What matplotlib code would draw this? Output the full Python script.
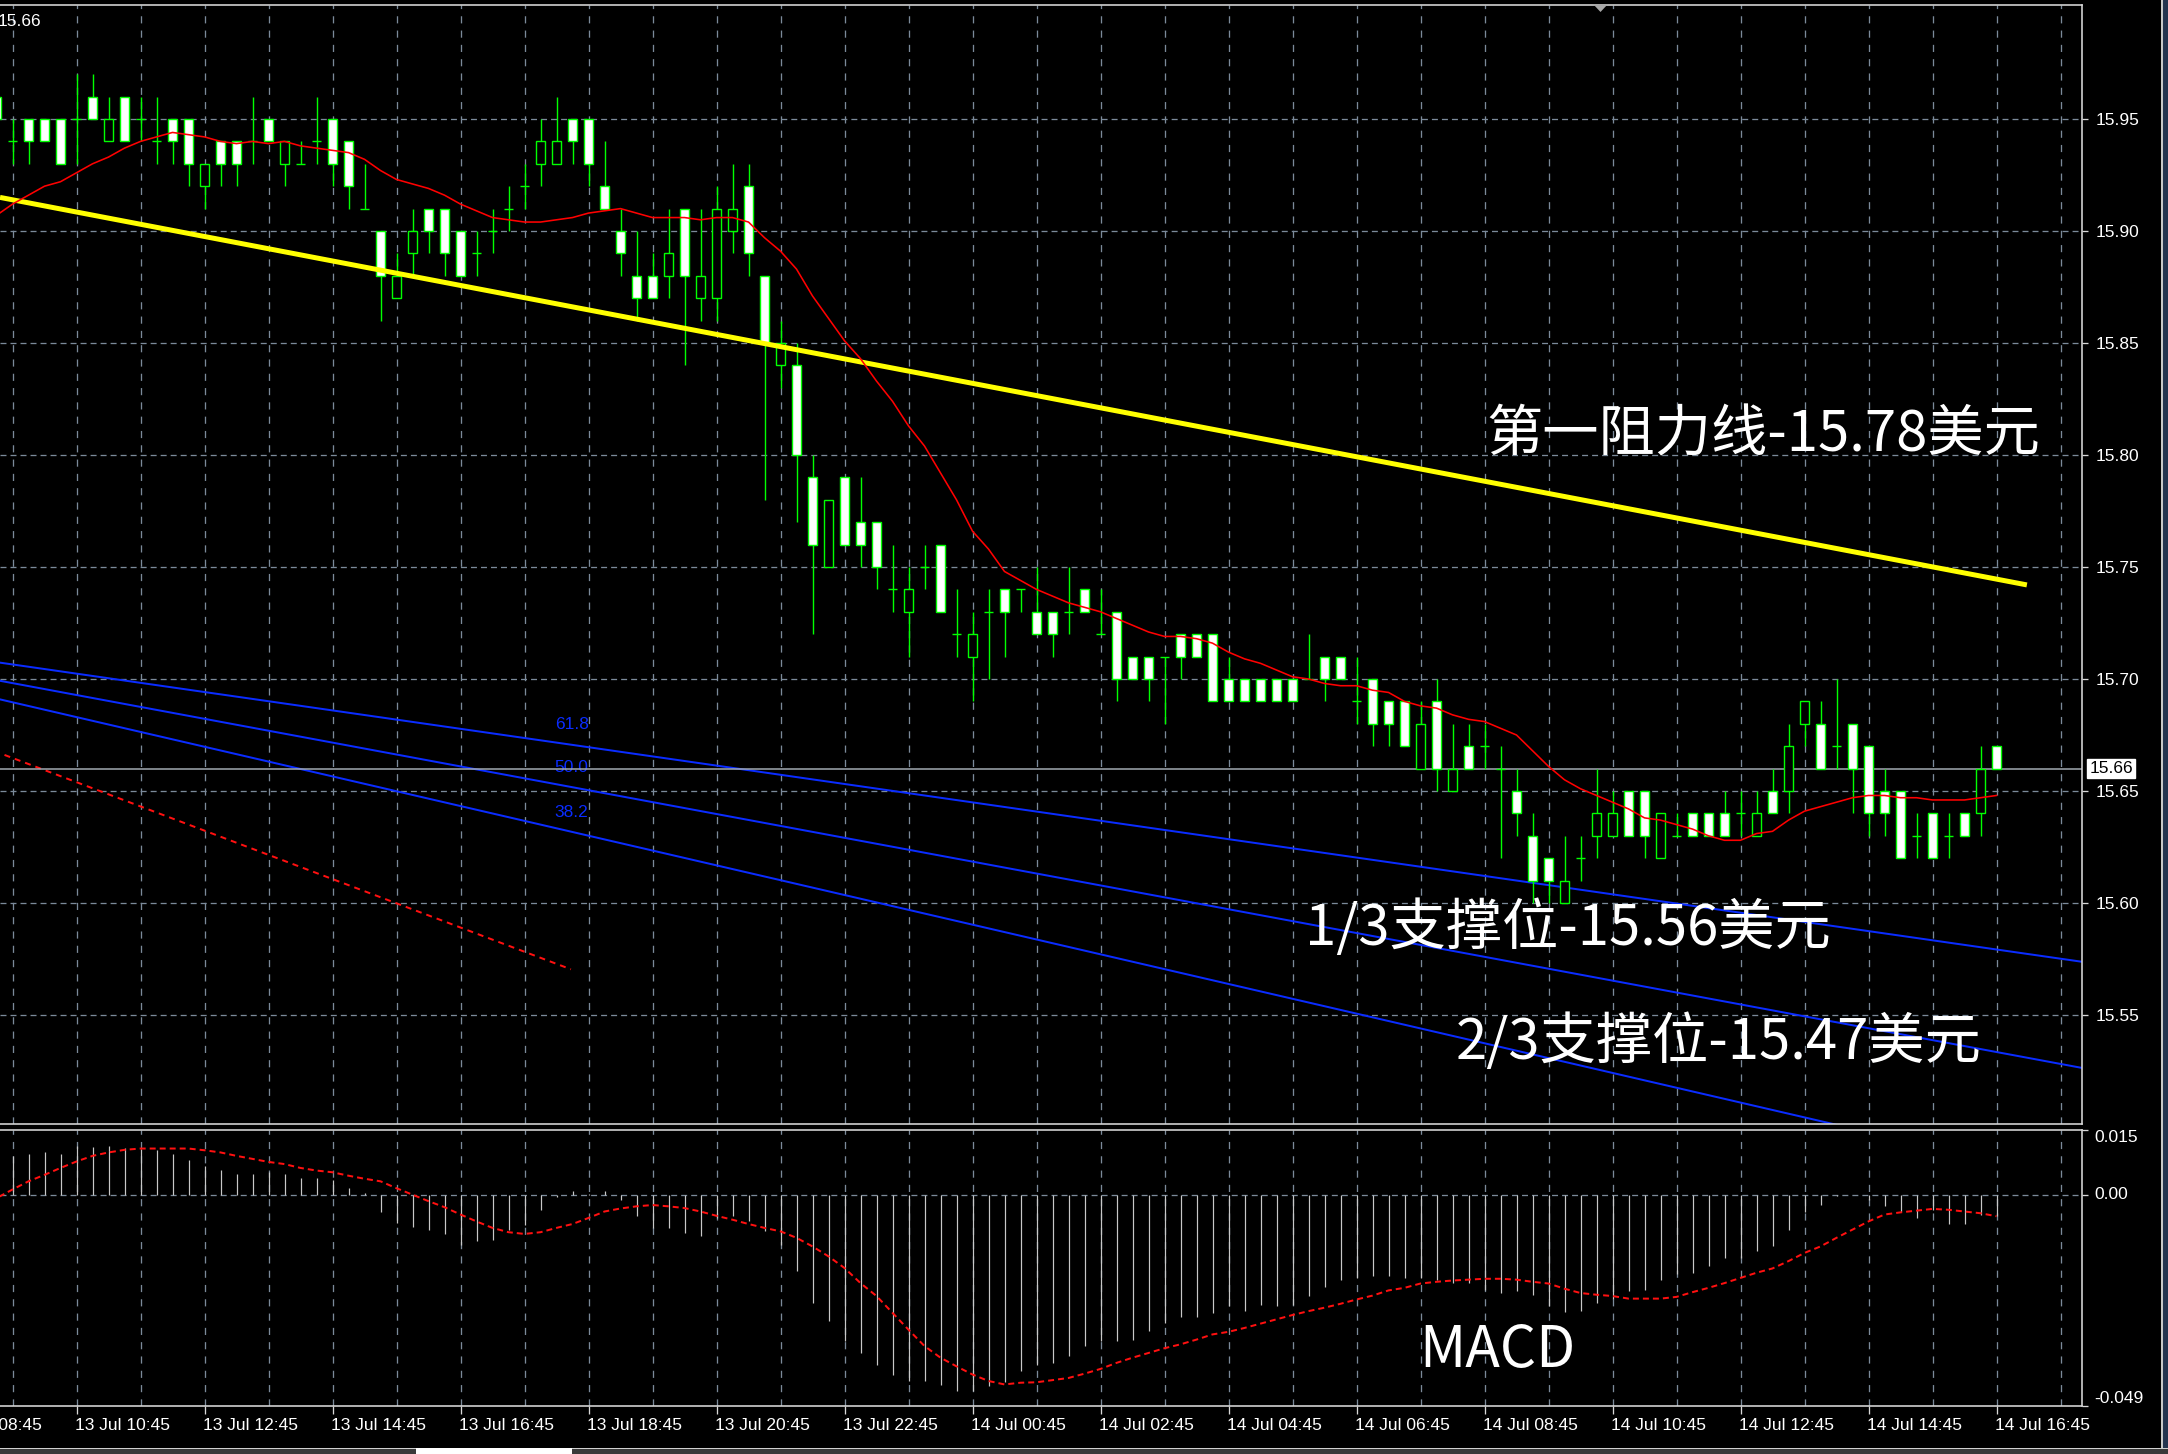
import matplotlib.pyplot as plt
from matplotlib.patches import Rectangle, Polygon
from matplotlib.transforms import blended_transform_factory

# 15 minute bars, bar 0 = 13 Jul 09:45
bars = list(range(-1, 125))
opens = [15.96, 15.94, 15.95, 15.95, 15.95, 15.95, 15.96, 15.94, 15.96, 15.95,
         15.94, 15.95, 15.95, 15.92, 15.94, 15.94, 15.94, 15.95, 15.93, 15.93,
         15.94, 15.95, 15.94, 15.91, 15.90, 15.87, 15.89, 15.91, 15.91, 15.90,
         15.89, 15.90, 15.91, 15.92, 15.93, 15.93, 15.95, 15.95, 15.92, 15.90,
         15.88, 15.88, 15.88, 15.91, 15.87, 15.87, 15.90, 15.92, 15.88, 15.84,
         15.84, 15.79, 15.75, 15.79, 15.77, 15.77, 15.74, 15.73, 15.75, 15.76,
         15.72, 15.71, 15.73, 15.74, 15.74, 15.73, 15.73, 15.73, 15.74, 15.72,
         15.73, 15.71, 15.71, 15.71, 15.72, 15.72, 15.72, 15.70, 15.70, 15.70,
         15.70, 15.70, 15.70, 15.71, 15.71, 15.69, 15.70, 15.69, 15.69, 15.66,
         15.69, 15.65, 15.67, 15.67, 15.66, 15.65, 15.63, 15.62, 15.60, 15.62,
         15.63, 15.63, 15.65, 15.65, 15.62, 15.63, 15.64, 15.64, 15.64, 15.64,
         15.63, 15.65, 15.65, 15.68, 15.68, 15.67, 15.68, 15.67, 15.65, 15.65,
         15.63, 15.64, 15.63, 15.64, 15.64, 15.67]
highs = [15.96, 15.95, 15.95, 15.95, 15.95, 15.97, 15.97, 15.96, 15.96, 15.96,
         15.96, 15.95, 15.95, 15.93, 15.94, 15.94, 15.96, 15.95, 15.94, 15.94,
         15.96, 15.95, 15.94, 15.93, 15.90, 15.89, 15.91, 15.91, 15.91, 15.90,
         15.90, 15.91, 15.92, 15.93, 15.95, 15.96, 15.95, 15.95, 15.94, 15.91,
         15.90, 15.89, 15.91, 15.91, 15.91, 15.92, 15.93, 15.93, 15.88, 15.86,
         15.85, 15.80, 15.78, 15.79, 15.79, 15.77, 15.76, 15.75, 15.76, 15.76,
         15.74, 15.73, 15.74, 15.74, 15.74, 15.75, 15.73, 15.75, 15.74, 15.74,
         15.73, 15.71, 15.71, 15.71, 15.72, 15.72, 15.72, 15.71, 15.70, 15.70,
         15.70, 15.70, 15.72, 15.71, 15.71, 15.71, 15.70, 15.69, 15.69, 15.69,
         15.70, 15.68, 15.68, 15.68, 15.67, 15.66, 15.64, 15.62, 15.63, 15.63,
         15.66, 15.65, 15.65, 15.65, 15.64, 15.64, 15.64, 15.64, 15.65, 15.65,
         15.65, 15.66, 15.68, 15.69, 15.69, 15.70, 15.68, 15.67, 15.66, 15.65,
         15.64, 15.64, 15.64, 15.64, 15.67, 15.67]
lows = [15.95, 15.93, 15.93, 15.94, 15.93, 15.93, 15.95, 15.94, 15.94, 15.94,
        15.93, 15.93, 15.92, 15.91, 15.92, 15.92, 15.93, 15.94, 15.92, 15.93,
        15.93, 15.92, 15.91, 15.91, 15.86, 15.87, 15.88, 15.89, 15.88, 15.88,
        15.88, 15.89, 15.90, 15.91, 15.92, 15.93, 15.93, 15.92, 15.91, 15.88,
        15.86, 15.87, 15.87, 15.84, 15.86, 15.86, 15.89, 15.88, 15.78, 15.83,
        15.77, 15.72, 15.75, 15.76, 15.75, 15.74, 15.73, 15.71, 15.74, 15.73,
        15.71, 15.69, 15.70, 15.71, 15.73, 15.72, 15.71, 15.72, 15.73, 15.72,
        15.69, 15.70, 15.69, 15.68, 15.70, 15.71, 15.69, 15.69, 15.69, 15.69,
        15.69, 15.69, 15.70, 15.69, 15.70, 15.68, 15.67, 15.67, 15.67, 15.66,
        15.65, 15.65, 15.66, 15.66, 15.62, 15.63, 15.60, 15.60, 15.60, 15.61,
        15.62, 15.63, 15.63, 15.62, 15.62, 15.63, 15.63, 15.63, 15.63, 15.63,
        15.63, 15.64, 15.64, 15.67, 15.66, 15.66, 15.64, 15.63, 15.63, 15.62,
        15.62, 15.62, 15.62, 15.63, 15.63, 15.66]
closes = [15.95, 15.94, 15.94, 15.94, 15.93, 15.95, 15.95, 15.95, 15.94, 15.95,
          15.94, 15.94, 15.93, 15.93, 15.93, 15.93, 15.94, 15.94, 15.94, 15.93,
          15.94, 15.93, 15.92, 15.91, 15.88, 15.88, 15.90, 15.90, 15.89, 15.88,
          15.89, 15.90, 15.91, 15.92, 15.94, 15.94, 15.94, 15.93, 15.91, 15.89,
          15.87, 15.87, 15.89, 15.88, 15.88, 15.91, 15.91, 15.89, 15.85, 15.85,
          15.80, 15.76, 15.78, 15.76, 15.76, 15.75, 15.74, 15.74, 15.75, 15.73,
          15.72, 15.72, 15.73, 15.73, 15.74, 15.72, 15.72, 15.73, 15.73, 15.72,
          15.70, 15.70, 15.70, 15.71, 15.71, 15.71, 15.69, 15.69, 15.69, 15.69,
          15.69, 15.69, 15.70, 15.70, 15.70, 15.69, 15.68, 15.68, 15.67, 15.68,
          15.66, 15.66, 15.66, 15.67, 15.66, 15.64, 15.61, 15.61, 15.61, 15.62,
          15.64, 15.64, 15.63, 15.63, 15.64, 15.63, 15.63, 15.63, 15.63, 15.64,
          15.64, 15.64, 15.67, 15.69, 15.66, 15.67, 15.66, 15.64, 15.64, 15.62,
          15.63, 15.62, 15.63, 15.63, 15.66, 15.66]
ma_line = [15.907, 15.912, 15.916, 15.920, 15.922, 15.926, 15.930, 15.933, 15.937, 15.940,
           15.942, 15.944, 15.943, 15.942, 15.940, 15.939, 15.940, 15.939, 15.940, 15.938,
           15.937, 15.936, 15.935, 15.932, 15.927, 15.923, 15.921, 15.919, 15.916, 15.912,
           15.909, 15.906, 15.905, 15.904, 15.904, 15.905, 15.906, 15.908, 15.909, 15.910,
           15.908, 15.906, 15.906, 15.906, 15.905, 15.906, 15.906, 15.904, 15.897, 15.891,
           15.883, 15.871, 15.861, 15.851, 15.843, 15.833, 15.824, 15.813, 15.804, 15.792,
           15.780, 15.766, 15.758, 15.748, 15.744, 15.740, 15.737, 15.734, 15.732, 15.730,
           15.727, 15.724, 15.721, 15.719, 15.719, 15.718, 15.716, 15.712, 15.709, 15.707,
           15.704, 15.701, 15.700, 15.698, 15.697, 15.697, 15.695, 15.694, 15.690, 15.688,
           15.687, 15.684, 15.682, 15.681, 15.678, 15.675, 15.668, 15.661, 15.655, 15.651,
           15.648, 15.645, 15.642, 15.638, 15.637, 15.635, 15.633, 15.630, 15.628, 15.628,
           15.631, 15.632, 15.637, 15.641, 15.643, 15.645, 15.647, 15.648, 15.648, 15.647,
           15.647, 15.646, 15.646, 15.646, 15.647, 15.648]
macd_hist = [0.0085, 0.0090, 0.0095, 0.0100, 0.0095, 0.0112, 0.0110, 0.0114, 0.0108, 0.0106,
             0.0104, 0.0094, 0.0081, 0.0067, 0.0058, 0.0049, 0.0049, 0.0053, 0.0049, 0.0039,
             0.0039, 0.0035, 0.0015, 0.0004, -0.0039, -0.0066, -0.0075, -0.0081, -0.0090, -0.0116,
             -0.0108, -0.0104, -0.0081, -0.0070, -0.0035, -0.0005, 0.0008, 0.0002, 0.0008, -0.0012,
             -0.0049, -0.0077, -0.0077, -0.0089, -0.0095, -0.0054, -0.0049, -0.0062, -0.0085, -0.0116,
             -0.0178, -0.0251, -0.0293, -0.0340, -0.0367, -0.0396, -0.0419, -0.0432, -0.0432, -0.0442,
             -0.0455, -0.0455, -0.0444, -0.0434, -0.0409, -0.0394, -0.0390, -0.0373, -0.0350, -0.0340,
             -0.0340, -0.0336, -0.0316, -0.0297, -0.0283, -0.0283, -0.0274, -0.0259, -0.0270, -0.0255,
             -0.0259, -0.0255, -0.0234, -0.0215, -0.0197, -0.0193, -0.0189, -0.0188, -0.0193, -0.0193,
             -0.0197, -0.0205, -0.0205, -0.0220, -0.0228, -0.0224, -0.0233, -0.0259, -0.0271, -0.0270,
             -0.0251, -0.0243, -0.0224, -0.0220, -0.0197, -0.0185, -0.0181, -0.0166, -0.0147, -0.0147,
             -0.0131, -0.0120, -0.0081, -0.0039, -0.0023, -0.0004, -0.0001, -0.0012, -0.0027, -0.0039,
             -0.0054, -0.0035, -0.0069, -0.0069, -0.0046, -0.0050]
macd_signal = [-0.0008, 0.0012, 0.0031, 0.0046, 0.0062, 0.0077, 0.0090, 0.0098, 0.0104, 0.0107,
               0.0107, 0.0107, 0.0107, 0.0103, 0.0098, 0.0090, 0.0083, 0.0076, 0.0071, 0.0062,
               0.0056, 0.0052, 0.0044, 0.0037, 0.0031, 0.0015, 0.0000, -0.0015, -0.0029, -0.0046,
               -0.0062, -0.0077, -0.0087, -0.0091, -0.0087, -0.0077, -0.0068, -0.0054, -0.0039, -0.0032,
               -0.0027, -0.0024, -0.0027, -0.0031, -0.0039, -0.0049, -0.0058, -0.0068, -0.0077, -0.0085,
               -0.0100, -0.0120, -0.0143, -0.0170, -0.0205, -0.0235, -0.0274, -0.0313, -0.0351, -0.0378,
               -0.0398, -0.0417, -0.0432, -0.0440, -0.0436, -0.0435, -0.0430, -0.0425, -0.0415, -0.0404,
               -0.0390, -0.0378, -0.0367, -0.0356, -0.0347, -0.0336, -0.0324, -0.0318, -0.0309, -0.0299,
               -0.0289, -0.0279, -0.0270, -0.0262, -0.0253, -0.0243, -0.0234, -0.0222, -0.0216, -0.0206,
               -0.0202, -0.0199, -0.0197, -0.0195, -0.0195, -0.0197, -0.0202, -0.0206, -0.0218, -0.0228,
               -0.0232, -0.0235, -0.0241, -0.0241, -0.0241, -0.0237, -0.0226, -0.0216, -0.0205, -0.0193,
               -0.0181, -0.0171, -0.0154, -0.0135, -0.0120, -0.0100, -0.0081, -0.0062, -0.0046, -0.0041,
               -0.0037, -0.0033, -0.0035, -0.0039, -0.0043, -0.0050]

# drawn objects (bar index, price)
resist_bars = [-0.78, 125.9]
resist_price = [15.915, 15.742]
fib_bars = [-0.78, 129.4]
fib_618 = [15.7073, 15.5737]
fib_500 = [15.6992, 15.5263]
fib_382 = [15.6909, 15.4755]
fan_bars = [-0.5, 34.9]
fan_base = [15.6661, 15.5704]
last_price = 15.66

price_ticks = [15.55, 15.60, 15.65, 15.70, 15.75, 15.80, 15.85, 15.90, 15.95]
macd_ticks = [-0.049, 0.0, 0.015]
time_bars = [-4, 4, 12, 20, 28, 36, 44, 52, 60, 68, 76, 84, 92, 100, 108, 116, 124]
time_labels = ['13 Jul 08:45', '13 Jul 10:45', '13 Jul 12:45', '13 Jul 14:45',
               '13 Jul 16:45', '13 Jul 18:45', '13 Jul 20:45', '13 Jul 22:45',
               '14 Jul 00:45', '14 Jul 02:45', '14 Jul 04:45', '14 Jul 06:45',
               '14 Jul 08:45', '14 Jul 10:45', '14 Jul 12:45', '14 Jul 14:45',
               '14 Jul 16:45']

W, H = 2168, 1454
PX = 0.72  # points per pixel at dpi 100
GREEN = '#00ff00'
GRID = '#7b8a9a'
FRAME = '#d8d8d8'
LBL = ['Liberation Sans', 'DejaVu Sans']
BIG = ['Noto Sans CJK SC', 'DejaVu Sans']

fig = plt.figure(figsize=(W / 100, H / 100), dpi=100, facecolor='black')


def box(x0, y0, x1, y1):
    return [x0 / W, 1 - y1 / H, (x1 - x0) / W, (y1 - y0) / H]


ax = fig.add_axes(box(0, 5, 2082, 1124), facecolor='black')
axm = fig.add_axes(box(0, 1130, 2082, 1406), facecolor='black')
xlim = (-12.5 / 16, (2082 - 12.5) / 16)

for a in (ax, axm):
    a.set_xlim(*xlim)
    for s in a.spines.values():
        s.set_color(FRAME)
        s.set_linewidth(1.6 * PX)
    a.spines['left'].set_visible(False)
    # hourly grid, every 4 bars
    for k in range(0, 132, 4):
        a.axvline(k, color=GRID, lw=1.3 * PX, dashes=(5.5, 5.5), zorder=0.5)

ax.set_ylim(15.95 - (1124 - 119) / 2240, 15.95 + (119 - 5) / 2240)
axm.set_ylim(-0.049, 0.015)

for p in price_ticks:
    ax.axhline(p, color=GRID, lw=1.3 * PX, dashes=(4.6, 3.1), zorder=0.5)
axm.axhline(0, color=GRID, lw=1.3 * PX, dashes=(4.6, 3.1), zorder=0.5)

# fibonacci fan + base line
for vals in (fib_618, fib_500, fib_382):
    ax.plot(fib_bars, vals, color='#0a2cff', lw=2 * PX, zorder=1)
ax.plot(fan_bars, fan_base, color='#ff1010', lw=2 * PX, dashes=(3, 2.5), zorder=1)
for lab, yv in (('61.8', 15.6795), ('50.0', 15.6603), ('38.2', 15.6406)):
    ax.text(36.0, yv, lab, color='#0a2cff', fontsize=12.5, family=LBL,
            ha='right', va='center', zorder=1)

ax.axhline(last_price, color='#a4acb4', lw=1.5 * PX, zorder=1.2)

# candles
wick_lw = 1.4 * PX
for k, o, hi, lo, c in zip(bars, opens, highs, lows, closes):
    ax.vlines(k, lo, hi, color=GREEN, lw=wick_lw, zorder=2)
    if abs(o - c) < 1e-9:
        ax.hlines(o, k - 0.3, k + 0.3, color=GREEN, lw=wick_lw, zorder=3)
    else:
        fill = 'white' if c < o else 'black'
        ax.add_patch(Rectangle((k - 0.26, min(o, c)), 0.52, abs(c - o),
                               facecolor=fill, edgecolor=GREEN,
                               lw=1.4 * PX, zorder=3))

ax.plot(resist_bars, resist_price, color='#ffff00', lw=5 * PX,
        solid_capstyle='butt', zorder=4)
ax.plot(bars, ma_line, color='#ff0000', lw=1.6 * PX, zorder=5)

# price axis
ax.yaxis.tick_right()
ax.set_yticks(price_ticks)
ax.set_yticklabels(['%.2f' % p for p in price_ticks])
ax.tick_params(axis='y', colors=FRAME, length=6 * PX, width=1.3 * PX,
               pad=8 * PX, labelsize=12.5, labelcolor='white')
ax.set_xticks([])
for t in ax.get_yticklabels():
    t.set_family(LBL)
trans = blended_transform_factory(ax.transAxes, ax.transData)
ax.text(1.0035, last_price, '15.66', transform=trans, color='black',
        fontsize=12.5, family=LBL, ha='left', va='center', zorder=10,
        bbox=dict(boxstyle='square,pad=0.12', fc='white', ec='white'))

# MACD panel
axm.vlines(bars, 0, macd_hist, color='#c8c8c8', lw=1.2 * PX, zorder=2)
axm.plot(bars, macd_signal, color='#ff1010', lw=2 * PX, dashes=(3, 2), zorder=3)
axm.yaxis.tick_right()
axm.set_yticks(macd_ticks)
axm.set_yticklabels(['-0.049', '0.00', '0.015'])
axm.tick_params(axis='y', colors=FRAME, length=6 * PX, width=1.3 * PX,
                pad=6 * PX, labelsize=12.5, labelcolor='white')
for t, va in zip(axm.get_yticklabels(), ['bottom', 'center', 'top']):
    t.set_va(va)
    t.set_family(LBL)

axm.set_xticks([b for b in time_bars if b >= 0])
axm.set_xticklabels([])
axm.tick_params(axis='x', colors=FRAME, length=8 * PX, width=1.3 * PX)
tx = blended_transform_factory(axm.transData, fig.transFigure)
for b, lab in zip(time_bars, time_labels):
    axm.text(b - 0.1, 1 - 1425 / H, lab, transform=tx, color='white',
             fontsize=12.5, family=LBL, ha='left', va='center', clip_on=False)

# annotations
ax.text(92.1, 15.8085, '第一阻力线-15.78美元', color='white', fontsize=40.5,
        family=BIG, ha='left', va='center', zorder=6)
ax.text(80.8, 15.5882, '1/3支撑位-15.56美元', color='white', fontsize=40.5,
        family=BIG, ha='left', va='center', zorder=6)
ax.text(90.2, 15.5373, '2/3支撑位-15.47美元', color='white', fontsize=40.5,
        family=BIG, ha='left', va='center', zorder=6)
axm.text(87.9, -0.0362, 'MACD', color='white', fontsize=41,
         family=BIG, ha='left', va='center', zorder=6)

# window decorations
fig.text(-2 / W, 1 - 21 / H, '15.66', color='white', fontsize=12.5, family=LBL,
         ha='left', va='center')
fig.add_artist(Polygon([[1593 / W, 1 - 4 / H], [1608 / W, 1 - 4 / H], [1600.5 / W, 1 - 12 / H]],
                       closed=True, fc='#a8a8a8', ec='none', transform=fig.transFigure))
fig.add_artist(Rectangle((2161 / W, 0), 2 / W, 1, fc='#c8c8c8', ec='none',
                         transform=fig.transFigure))
fig.add_artist(Rectangle((2163 / W, 0), 5 / W, 1, fc='#24344f', ec='none',
                         transform=fig.transFigure))
fig.add_artist(Rectangle((0, 0), 1, 5 / H, fc='#3a3a3a', ec='none',
                         transform=fig.transFigure))
fig.add_artist(Rectangle((0, 5 / H), 1, 1.5 / H, fc='#d0d0d0', ec='none',
                         transform=fig.transFigure))
fig.add_artist(Rectangle((416 / W, 0), 156 / W, 6 / H, fc='white', ec='none',
                         transform=fig.transFigure))

fig.savefig('out.png', dpi=100, facecolor='black')
